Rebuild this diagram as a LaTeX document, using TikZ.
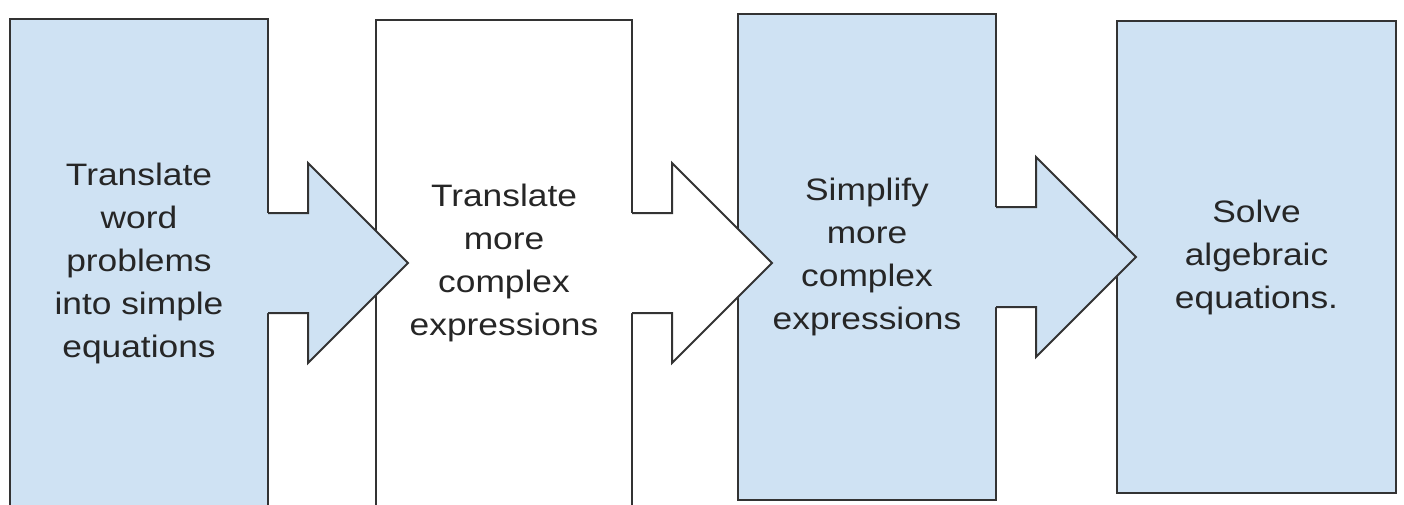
\documentclass[tikz,border=0pt]{standalone}
\usepackage{fontspec}
\setmainfont{Liberation Sans}[FakeStretch=1.14]
\usetikzlibrary{calc,positioning}
\definecolor{stepblue}{HTML}{CFE2F3}
\definecolor{edgegray}{HTML}{333333}

\tikzset{
  stage/.style={draw=edgegray, line width=2.5pt, align=center, inner sep=0pt, outer sep=0pt,
    text=black!85, font=\fontsize{31}{43}\selectfont},
  flow/.style={draw=edgegray, line width=2pt, line join=miter},
}

\begin{document}
\begin{tikzpicture}[x=1pt,y=-1pt]
\useasboundingbox (0,0) rectangle (1404,504);
\clip (0,0) rectangle (1404,504);
% the four stages
\node[stage, fill=stepblue, minimum width=258, minimum height=488] (s1) at (139,263) {Translate\\word\\problems\\into simple\\equations};
\node[stage, fill=white, minimum width=256, minimum height=486] (s2) at (504,263) {Translate\\more\\complex\\expressions};
\node[stage, fill=stepblue, minimum width=258, minimum height=486] (s3) at (867,257) {Simplify\\more\\complex\\expressions};
\node[stage, fill=stepblue, minimum width=279, minimum height=472] (s4) at (1256.5,257) {Solve\\algebraic\\equations.};
% block arrows out of each stage
\foreach \a/\c in {s1/stepblue, s2/white, s3/stepblue}{
  \coordinate (base) at (\a.east);
  \fill[\c] ($(base)+(-3,-50)$) -- ++(43,0) -- ++(0,-50) -- ++(100,100) -- ++(-100,100) -- ++(0,-50) -- ++(-43,0) -- cycle;
  \draw[flow] ($(base)+(0,-50)$) -- ++(40,0) -- ++(0,-50) -- ++(100,100) -- ++(-100,100) -- ++(0,-50) -- ++(-40,0);
}
\end{tikzpicture}
\end{document}
